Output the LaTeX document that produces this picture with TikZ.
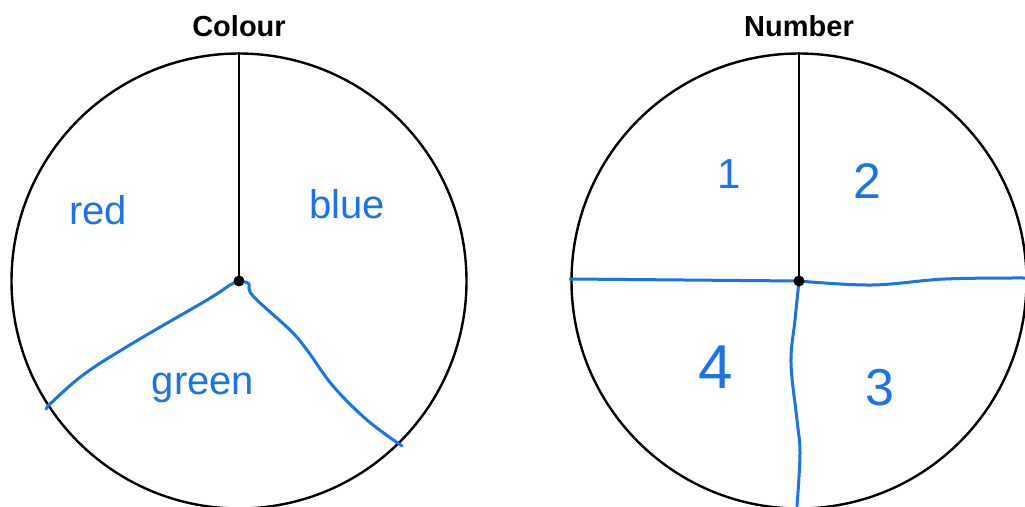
\documentclass[tikz,border=0pt]{standalone}
\usepackage{fontspec}
\setmainfont{Liberation Sans}
\definecolor{pen}{RGB}{26,115,232}
\tikzset{
  wheel/.style={circle, draw=black, line width=2.4pt, minimum size=455pt, inner sep=0pt},
  spoke/.style={draw=black, line width=2.2pt},
  hub/.style={circle, fill=black, minimum size=11pt, inner sep=0pt},
  penline/.style={draw=pen, line width=3pt, line cap=round, line join=round},
  title/.style={font=\fontsize{29}{30}\selectfont\bfseries, text=black},
  hand/.style={text=pen, inner sep=0pt},
}
\begin{document}
\begin{tikzpicture}[x=1pt, y=-1pt]
\useasboundingbox (0,0) rectangle (1025,506);
% left wheel
\node[wheel] (c1) at (239,281) {};
\node[title] (t1) at (239,26) {Colour};
\draw[spoke] (c1.north) -- (c1.center);
\coordinate (l1) at (48,406);
\coordinate (l2) at (402,446);
\draw[penline] plot[smooth, tension=0.6] coordinates {(c1.center) (230,285) (207,300) (133,343) (83,375) (l1)};
\draw[penline] (l1) -- (46,409);
\draw[penline] plot[smooth, tension=0.6] coordinates {(245,282) (249,284) (253,296) (290,330) (307,350) (333,386) (367,420) (l2)};
\node[hub] (d1) at (c1.center) {};
\node[hand, font=\fontsize{40}{40}\selectfont] (red) at (98,210) {red};
\node[hand, font=\fontsize{40}{40}\selectfont] (blue) at (347,204) {blue};
\node[hand, font=\fontsize{40}{40}\selectfont] (green) at (203,388) {green};
% right wheel
\node[wheel] (c2) at (799,281) {};
\node[title] (t2) at (799,26) {Number};
\draw[spoke] (c2.north) -- (c2.center);
\coordinate (r1) at (570,279);
\coordinate (r2) at (1025,278);
\coordinate (r3) at (797,506);
\draw[penline] (r1) -- (c2.center);
\draw[penline] plot[smooth, tension=0.6] coordinates {(c2.center) (872,285) (945,279) (r2)};
\draw[penline] plot[smooth, tension=0.6] coordinates {(c2.center) (795,320) (791,363) (797,420) (800,453) (r3)};
\node[hub] (d2) at (c2.center) {};
\node[hand, font=\fontsize{42}{42}\selectfont] (n1) at (729,174) {1};
\node[hand, font=\fontsize{50}{50}\selectfont] (n2) at (867,181) {2};
\node[hand, font=\fontsize{62}{62}\selectfont] (n4) at (716,367) {4};
\node[hand, font=\fontsize{52}{52}\selectfont] (n3) at (880,388) {3};
\end{tikzpicture}
\end{document}
